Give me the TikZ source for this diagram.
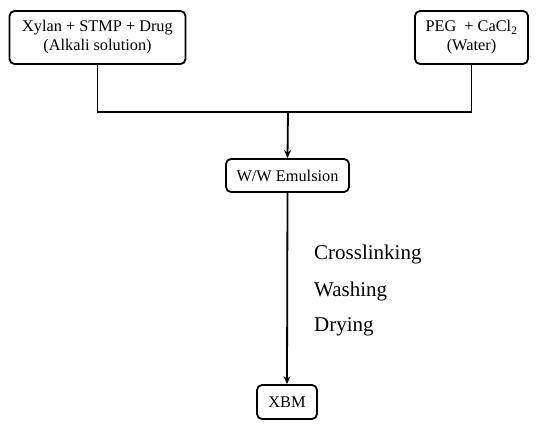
\documentclass[tikz,border=0pt]{standalone}
\usepackage{fontspec}
\setmainfont{Liberation Serif}
\usetikzlibrary{arrows.meta}
\begin{document}
\begin{tikzpicture}[x=1pt,y=-1pt,
  box/.style={draw,line width=1.8pt,rounded corners=5pt,inner sep=0pt,align=center,font=\fontsize{16.3}{19}\selectfont},
  conn/.style={line width=1.8pt},
  arr/.style={line width=1.8pt,-{Stealth[length=8pt,width=7pt]}},
  lbl/.style={anchor=base west,inner sep=0pt,font=\fontsize{21}{24}\selectfont}]
\useasboundingbox (0,0) rectangle (550,430);
\node[box,minimum width=176pt,minimum height=53pt] (a) at (97.5,37.5) {Xylan + STMP + Drug\\(Alkali solution)};
\node[box,minimum width=113pt,minimum height=53pt] (b) at (471.5,37.5) {PEG~ + CaCl\textsubscript{2}\\(Water)};
\coordinate (j) at (288,112);
\node[box,minimum width=123pt,minimum height=33pt] (c) at (287.5,175.5) {W/W Emulsion};
\node[box,minimum width=60pt,minimum height=34pt] (d) at (287,402) {XBM};
\draw[conn] (a.south) |- (j) -| (b.south);
\draw[arr] (j) -- (c.north);
\draw[arr] (c.south) -- (d.north);
\node[lbl] (t1) at (314,260) {Crosslinking};
\node[lbl] (t2) at (314,297) {Washing};
\node[lbl] (t3) at (314,332) {Drying};
\end{tikzpicture}
\end{document}
